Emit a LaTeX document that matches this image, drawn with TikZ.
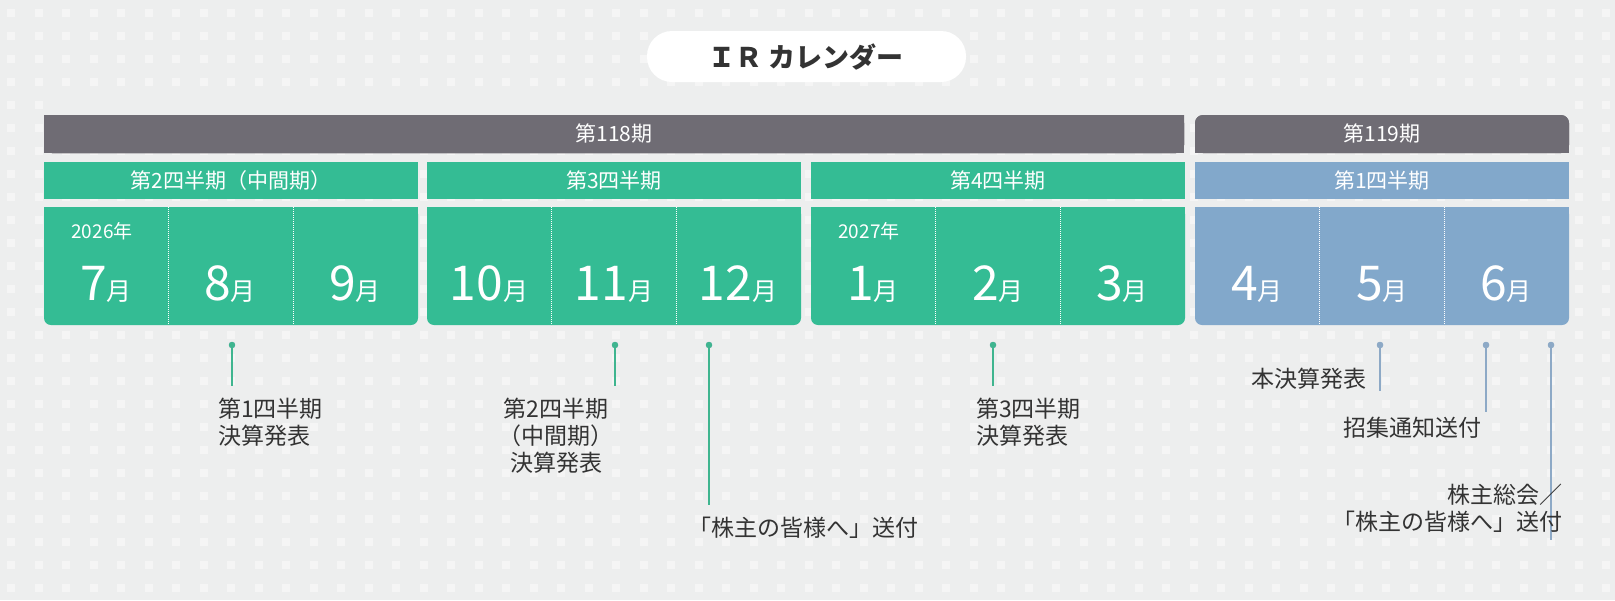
\documentclass[tikz,border=0pt]{standalone}
\usepackage{fontspec}
\setmainfont{Noto Sans CJK JP}
\begin{document}
\begin{tikzpicture}[x=1pt,y=-1pt,
  every node/.style={inner sep=0pt,outer sep=0pt},
  ann/.style={font=\fontsize{23}{27}\selectfont,text=txt,align=center},
  mon/.style={text=white,font=\fontsize{48}{48}\selectfont},
  yr/.style={text=white,font=\fontsize{19}{19}\selectfont},
  hd/.style={text=white,font=\fontsize{21}{21}\selectfont},
  gl/.style={draw=glc,line width=1.2pt},
  bl/.style={draw=blc,line width=1.2pt},
  sep/.style={draw=white,line width=1pt,densely dotted}]
\definecolor{bg}{HTML}{EDEEEE}\definecolor{dotc}{HTML}{F5F5F5}
\definecolor{gry}{HTML}{6F6C74}\definecolor{grn}{HTML}{34BC94}
\definecolor{blu}{HTML}{82A8CB}\definecolor{txt}{HTML}{333333}
\definecolor{glc}{HTML}{3FB58F}\definecolor{blc}{HTML}{8DA9C6}
\useasboundingbox (0,0) rectangle (1615,600);
\fill[bg] (0,0) rectangle (1615,600);
\foreach \i in {0,...,58} \foreach \j in {0,...,25}
  \fill[dotc] ({7+27.5*\i},{9+23*\j}) rectangle ++(8,8);
\fill[white,rounded corners=25] (647,31) rectangle (966,82);
\node[text=txt,font=\fontsize{27}{27}\selectfont\bfseries] (ttl) at (806,57) {ＩＲ カレンダー};
% period bars
\fill[gry,rounded corners=8] (44,115) -- (44,106) -- (1184,106) -- (1184,153) -- (44,153) -- cycle;
\fill[gry] (44,130) rectangle (1184,153);
\fill[gry,rounded corners=8] (1195,115) rectangle (1569,153);
\fill[gry] (1195,130) rectangle (1569,153);
\fill[gry,rounded corners=8] (44,115) rectangle (1184,153);
\fill[bg] (44,106) rectangle (1569,114.5);
\foreach \a in {0,...,58} \foreach \b in {4} \fill[dotc] ({7+27.5*\a},{9+23*\b}) rectangle ++(8,8);
\fill[bg] (44,100) rectangle (1569,114.5);
\fill[gry,rounded corners=8] (44,115) rectangle (1184,153);
\fill[gry] (44,135) rectangle (1184,153);
\fill[gry,rounded corners=8] (1195,115) rectangle (1569,153);
\fill[gry] (1195,135) rectangle (1569,153);
\node[hd] (p1) at (614,134) {第118期};
\node[hd] (p2) at (1382,134) {第119期};
% quarter headers and month boxes
\foreach \x/\c/\t/\n in {44/grn/第2四半期（中間期）/q1,427/grn/第3四半期/q2,811/grn/第4四半期/q3,1195/blu/第1四半期/q4}{
  \fill[\c] (\x,162) rectangle ({\x+374},199);
  \node[hd] (\n) at ({\x+187},181) {\t};
  \fill[\c,rounded corners=7] (\x,207) rectangle ({\x+374},325);
  \fill[\c] (\x,207) rectangle ({\x+374},240);
  \draw[sep] ({\x+124.7},207) -- ({\x+124.7},325);
  \draw[sep] ({\x+249.3},207) -- ({\x+249.3},325);
}
\foreach \x/\m/\n in {106/7/m7,230/8/m8,355/9/m9,489/10/m10,614/11/m11,738/12/m12,873/1/m1,998/2/m2,1122/3/m3,1257/4/m4,1382/5/m5,1506/6/m6}
  \node[mon,anchor=base] (\n) at (\x,300) {\m{\fontsize{25}{25}\selectfont 月}};
\node[yr] (y1) at (102,231) {2026年};
\node[yr] (y2) at (869,231) {2027年};
% annotations
\foreach \n/\x/\y/\s in {a/232/386/gl,b/615/386/gl,c/709/505/gl,d/993/386/gl,e/1380/391/bl,f/1486/412/bl,g/1551/540/bl}{
  \coordinate (\n0) at (\x,345); \coordinate (\n1) at (\x,\y);
  \draw[\s] (\n0) -- (\n1);
  \fill[\s,draw=none,fill=\ifx\s gl glc\else blc\fi] (\n0) circle (3.2);
}
\fill[glc] (a0) circle (3.2);\fill[glc] (b0) circle (3.2);\fill[glc] (c0) circle (3.2);\fill[glc] (d0) circle (3.2);
\fill[blc] (e0) circle (3.2);\fill[blc] (f0) circle (3.2);\fill[blc] (g0) circle (3.2);
\node[ann,align=left,anchor=north west] (ta) at (218,398) {第1四半期\\決算発表};
\node[ann,anchor=north] (tb) at (556,398) {第2四半期\\（中間期）\\決算発表};
\node[ann,anchor=west] (tc) at (688,528) {「株主の皆様へ」送付};
\node[ann,align=left,anchor=north west] (td) at (976,398) {第3四半期\\決算発表};
\node[ann,anchor=east] (te) at (1366,379) {本決算発表};
\node[ann] (tf) at (1412,428) {招集通知送付};
\node[ann,align=right,anchor=east] (tg) at (1562,508) {株主総会／\\「株主の皆様へ」送付};
\end{tikzpicture}
\end{document}
